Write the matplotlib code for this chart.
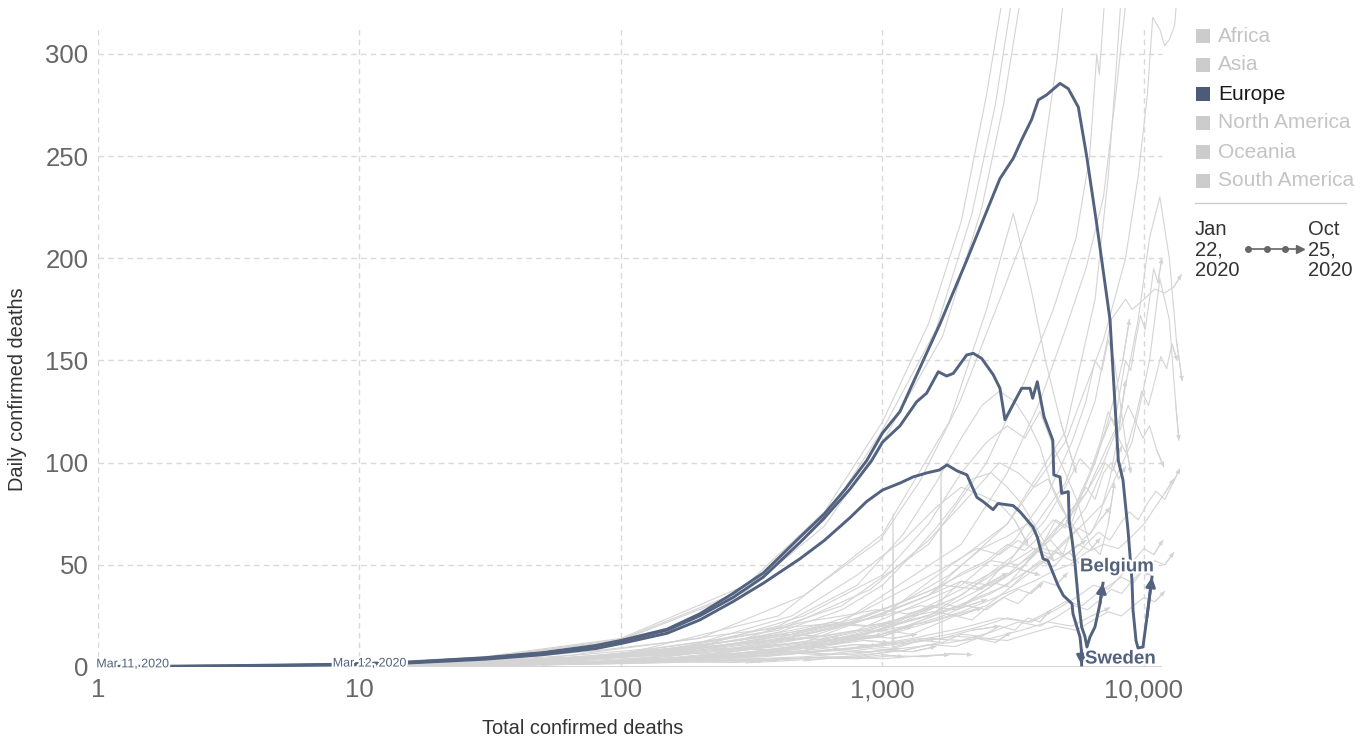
import matplotlib.pyplot as plt
import matplotlib.patheffects as pe
from matplotlib.patches import Rectangle
from matplotlib.lines import Line2D

plt.rcParams['font.family'] = ['Liberation Sans', 'DejaVu Sans']

W, H = 1369, 738
HL = '#52627f'      # highlighted (Europe) lines
GREY = '#d4d4d4'
TICK = '#666666'

# ---------- highlighted countries ----------
BEL_X = [1, 2, 4, 8, 15, 30, 50, 80, 100, 150, 200, 268, 350, 484, 600, 720, 870, 1000, 1166,
         1660, 2099, 2813, 3165, 3406, 3720, 3944, 4244, 4773, 5135, 5609, 6037, 6592, 7413,
         7977, 8312, 8687, 8995, 9078, 9321, 9485, 9909, 10268, 10730]
BEL_Y = [0.3, 0.4, 0.8, 1.3, 2.3, 4.5, 7, 10.5, 13, 18.5, 26, 36, 46, 63.6, 75, 87, 101, 114.5, 125,
         168, 199, 239, 249, 258, 268, 277.5, 280, 285.6, 283, 274, 250, 217, 170,
         101, 91.5, 67, 42.6, 28, 13, 9.3, 9.8, 24.5, 44]

NLD_X = [8, 15, 30, 50, 80, 100, 150, 200, 268, 350, 484, 600, 750, 909, 1000, 1166, 1351, 1475,
         1635, 1759, 1866, 2099, 2225, 2395, 2653, 2813, 2940, 3405, 3665, 3752, 3908, 4146,
         4480, 4520, 4773, 4844, 5135, 5180, 5288, 5446, 5609, 5775, 5948, 6050, 6217, 6495,
         6786, 6970]
NLD_Y = [1.2, 2.2, 4.3, 6.8, 10.2, 12.6, 18, 25, 34, 44, 61, 73, 87, 101, 110, 118, 129.8, 134,
         144.5, 142.4, 143.7, 152.7, 153.5, 151, 143, 136.4, 121, 136.4, 136.4, 131.5, 139.6, 122.5,
         111, 94, 93, 85, 85.8, 71, 63.8, 50.7, 32.8, 19.7, 14.8, 9.8, 14.7, 19.6,
         31, 41]

SWE_X = [1, 2, 4, 8, 15, 30, 50, 80, 100, 150, 200, 268, 350, 484, 600, 750, 870, 1000, 1166,
         1308, 1479, 1650, 1765, 1928, 2104, 2297, 2423, 2647, 2766, 3158, 3356, 3763, 3908,
         4111, 4295, 4690, 4916, 5305, 5352, 5500, 5692, 5760, 5775]
SWE_Y = [0.2, 0.3, 0.6, 1.0, 1.9, 3.8, 6, 9, 11.5, 16.5, 23, 32, 41, 53, 62, 73, 81, 86.6, 90,
         93, 95, 96.4, 98.9, 96, 94, 83, 81, 77, 80, 79, 76, 68.5, 63.6,
         53, 52, 40, 35, 31, 26, 21, 14.7, 8.3, 1]

# ---------- other countries (grey) ----------
grey_steep = [
    ([1, 3, 10, 30, 100, 300, 600, 1000, 1500, 2000, 2500, 2900],
     [0, 0.5, 1.8, 5, 14, 40, 76, 120, 168, 218, 280, 330]),
    ([1, 3, 10, 30, 100, 300, 600, 1000, 1600, 2200, 2700, 3150],
     [0, 0.4, 1.6, 4.6, 13.5, 38, 72, 116, 165, 222, 275, 330]),
    ([2, 5, 10, 30, 100, 300, 600, 1000, 1700, 2400, 2900, 3400],
     [0, 0.8, 1.5, 4.4, 13, 37, 69, 110, 162, 225, 275, 330]),
    ([10, 50, 200, 500, 978, 1391, 1979, 2813, 3899, 4647, 4950],
     [1, 4, 14, 35, 62, 91, 130, 180, 228, 297, 330]),
    ([30, 100, 300, 700, 1500, 2500, 3500, 4500, 5500, 6200, 6600, 6750, 7100],
     [2, 5, 14, 30, 60, 100, 140, 175, 210, 250, 300, 290, 330]),
    ([50, 200, 700, 2000, 3000, 4000, 5000, 6000, 7000, 7800, 8600],
     [2, 8, 22, 60, 95, 130, 165, 195, 230, 280, 330]),
    ([100, 500, 1500, 3000, 5000, 7000, 8500, 9500, 10300, 10800, 11500, 12000, 12500, 13100, 13400],
     [3, 12, 35, 70, 110, 160, 200, 240, 280, 318, 312, 304, 307, 314, 330]),
    ([200, 1000, 3000, 5000, 6500, 7300, 7800, 8200],
     [5, 25, 70, 115, 180, 240, 290, 330]),
]

grey_mid = [
    ([20, 100, 400, 1000, 1800, 2500, 2900, 3165, 3400, 3700, 4200, 4800, 5500],
     [1, 6, 25, 65, 120, 175, 205, 222, 205, 185, 150, 120, 95]),
    ([10, 60, 200, 500, 1000, 1500, 2000, 2500, 3000, 3500, 4000, 4500, 5000, 5600, 6200, 6800, 7300, 7700],
     [0.5, 3, 10, 25, 45, 70, 95, 110, 118, 112, 125, 108, 95, 80, 60, 55, 70, 90]),
    ([20, 100, 400, 900, 1500, 2200, 2800, 3300, 3800, 4300, 4800, 5300, 5800, 6300, 6800, 7400, 8000, 8500],
     [1, 5, 18, 38, 62, 85, 100, 95, 88, 92, 78, 70, 62, 66, 75, 92, 115, 140]),
    ([10, 80, 300, 700, 1200, 1800, 2400, 3000, 3600, 4100, 4600, 5200, 5800, 6500, 7200, 7800, 8300, 8800],
     [0.3, 2.5, 9, 20, 32, 45, 58, 64, 70, 60, 72, 68, 85, 100, 118, 135, 150, 170]),
    ([50, 200, 600, 1100, 1600, 2000, 2400, 2900, 3400, 3900, 4400, 4900, 5400, 6000, 6600, 7100, 7600, 8200],
     [1, 5, 14, 22, 30, 42, 38, 50, 48, 58, 62, 55, 70, 78, 90, 100, 96, 108]),
    ([5, 40, 150, 400, 800, 1200, 1600, 2000, 2400, 2800, 3200, 3600, 4000, 4400, 4800, 5200],
     [0.3, 2, 8, 20, 40, 65, 90, 112, 128, 135, 130, 120, 108, 90, 80, 70]),
    ([5, 40, 150, 400, 700, 1000, 1300, 1600, 1900, 2200, 2600, 3000, 3400, 3800, 4200, 4500],
     [0.3, 2, 7, 17, 28, 40, 55, 68, 80, 92, 95, 88, 80, 70, 60, 52]),
    ([30, 150, 500, 1000, 1500, 2000, 2500, 3000, 3500, 4000, 4500, 5000, 5500, 6000, 6500, 7000, 7500, 8000, 8500],
     [1, 5, 14, 26, 35, 46, 52, 60, 57, 64, 72, 68, 80, 88, 82, 95, 100, 92, 98]),
    ([300, 1500, 3000, 4500, 5500, 6200, 6800, 7300, 7700, 8100, 8500, 8900, 9300, 9700, 10100, 10500, 10900, 11300, 11700],
     [5, 25, 45, 65, 80, 95, 110, 125, 118, 135, 150, 145, 160, 172, 165, 180, 195, 188, 200]),
    ([500, 2000, 3500, 5000, 6000, 7000, 7800, 8500, 9200, 9800, 10400, 11000, 11600, 12200, 12800, 13400],
     [8, 30, 50, 70, 85, 100, 115, 105, 120, 135, 128, 140, 152, 146, 158, 150]),
    ([100, 800, 2000, 3200, 4200, 5000, 5700, 6300, 6900, 7500, 8100, 8700, 9300, 9900, 10500, 11200, 11900],
     [2, 14, 35, 55, 72, 88, 102, 96, 110, 122, 116, 128, 120, 112, 118, 106, 98]),
    ([150, 800, 2000, 3200, 4300, 5300, 6000, 6500, 6900, 7300, 7700, 8100, 8500, 8900],
     [3, 18, 40, 62, 85, 110, 130, 150, 145, 160, 150, 130, 110, 95]),
    ([100, 500, 1500, 3000, 5000, 6500, 7500, 8500, 9000, 10000, 11000, 12000, 13000, 13900],
     [2, 8, 25, 50, 90, 130, 170, 180, 175, 180, 185, 183, 186, 192]),
    ([200, 1000, 3000, 6000, 8000, 9500, 10500, 11500, 12500, 13300, 14000],
     [3, 15, 40, 85, 120, 170, 210, 230, 200, 160, 140]),
    ([50, 300, 1000, 2500, 4500, 7000, 9000, 10500, 11500, 12500, 13200, 13600],
     [1, 6, 15, 30, 55, 80, 110, 150, 190, 170, 130, 111]),
    ([300, 800, 1000, 1090, 1097, 1105, 1300, 1600],
     [2, 5, 7, 8, 75, 10, 12, 14]),
    ([500, 1200, 1650, 1675, 1690, 2200, 2800],
     [3, 8, 12, 96, 14, 18, 20]),
    ([20, 80, 200, 450, 800, 1200, 1600, 2000, 2400, 2800, 3200, 3600],
     [1, 5, 12, 25, 45, 62, 78, 88, 84, 80, 72, 60]),
    ([40, 150, 400, 800, 1300, 1800, 2300, 2800, 3300, 3900, 4500, 5200, 5900],
     [2, 6, 14, 26, 40, 50, 58, 55, 62, 57, 52, 56, 48]),
]

grey_low = [
    ([1, 5, 20, 60, 150, 300, 600, 1000, 1500, 2000, 2600, 3200, 3800, 4500, 5200, 6000, 7000, 8000, 9000, 10000, 11000, 12000, 13000],
     [0, 0.5, 1.5, 3, 6, 9, 13, 18, 22, 27, 33, 38, 42, 47, 50, 56, 60, 58, 64, 70, 78, 85, 92]),
    ([1, 10, 50, 150, 300, 500, 800, 1100, 1400, 1700, 2000, 2400, 2800, 3200, 3600, 4000, 4400],
     [0, 0.5, 2, 4, 6, 8, 11, 9, 13, 12, 16, 15, 20, 18, 24, 22, 28]),
    ([2, 20, 80, 200, 400, 600, 900, 1200, 1500, 1900, 2300, 2700, 3100],
     [0, 0.8, 2.5, 4, 7, 6, 9, 8, 11, 10, 14, 12, 17]),
    ([1, 10, 40, 120, 250, 400, 600, 800, 1000, 1200],
     [0, 0.3, 1.2, 2.5, 4, 3.5, 5, 4.5, 6, 5]),
    ([5, 30, 100, 250, 450, 700, 1000, 1300, 1600, 1900, 2200, 2500, 2900, 3300, 3700, 4100, 4600, 5100],
     [0, 1, 3, 6, 10, 14, 18, 16, 21, 25, 23, 29, 34, 31, 37, 42, 40, 46]),
    ([1, 8, 30, 90, 200, 350, 550, 800, 1100, 1400, 1700, 2000, 2300, 2700, 3100, 3500, 4000, 4500, 5000, 5600, 6200, 6800],
     [0, 0.5, 1.2, 2.8, 5, 8, 11, 15, 20, 26, 31, 29, 35, 41, 39, 46, 52, 49, 55, 60, 57, 63]),
    ([3, 15, 60, 150, 300, 500, 750, 1000, 1300, 1600],
     [0, 0.6, 2, 3.5, 5, 7, 6, 8, 7.5, 10]),
    ([1, 4, 15, 50, 120, 200, 300, 400],
     [0, 0.2, 0.8, 1.6, 2.5, 3.2, 2.8, 3.5]),
    ([10, 50, 200, 500, 900, 1400, 2000, 2600, 3300, 4000, 4700, 5400, 6100, 6800, 7500, 8200, 9000, 9800, 10600],
     [0.2, 1.5, 4, 7, 10, 14, 13, 17, 22, 20, 25, 30, 28, 33, 38, 36, 42, 47, 45]),
    ([20, 100, 300, 700, 1200, 1800, 2400, 3000, 3600, 4300, 5000, 5800, 6600, 7400, 8200, 9100, 10000, 11000, 12000, 13000],
     [0.5, 2, 5, 9, 12, 16, 20, 24, 22, 27, 32, 30, 36, 40, 44, 41, 48, 52, 50, 56]),
    ([5, 25, 80, 200, 400, 700, 1000, 1400, 1800],
     [0.2, 0.8, 2, 3, 4, 5, 4, 5.5, 6]),
    ([50, 200, 500, 1000, 1600, 2300, 3000, 3800, 4600, 5500, 6400, 7300, 8200, 9100, 10000, 11000, 12000],
     [1, 3, 5, 8, 11, 14, 13, 17, 20, 18, 23, 27, 25, 30, 34, 32, 37]),
    ([1, 6, 25, 70, 150, 280, 450, 650, 900, 1150],
     [0, 0.4, 1, 2, 3.5, 5, 6.5, 8, 7.5, 9]),
    ([100, 300, 600, 1000, 1500, 2000, 2600, 3200, 3900, 4600, 5300, 6000, 6700, 7400, 8100, 8800, 9500, 10300, 11100, 12000, 12900, 13700],
     [2, 6, 10, 16, 24, 30, 36, 43, 50, 56, 52, 60, 66, 62, 70, 76, 72, 80, 86, 82, 90, 97]),
    ([30, 120, 350, 750, 1300, 2000, 2800, 3700, 4600, 5500, 6400, 7300, 8200, 9100, 10000, 10900, 11800],
     [0.5, 2, 5, 9, 14, 19, 24, 22, 28, 34, 40, 38, 45, 52, 58, 55, 62]),
    ([2, 12, 40, 100, 180, 260, 350],
     [0, 0.4, 1, 1.8, 2.5, 2.2, 3]),
    ([10, 40, 120, 250, 450, 700, 1000, 1350, 1700, 2100, 2500, 2900, 3300, 3700, 4100],
     [0.3, 1.2, 3, 5.5, 8.5, 12, 16, 21, 25, 30, 28, 34, 38, 36, 41]),
    ([200, 500, 900, 1400, 2000, 2600, 3200, 3800, 4400, 5000, 5600, 6200, 6800, 7400],
     [4, 10, 18, 28, 38, 46, 52, 58, 55, 62, 68, 65, 72, 78]),
    ([40, 150, 400, 800, 1300, 1900, 2600, 3400, 4300, 5300, 6300, 7400],
     [1, 3, 6, 9, 12, 15, 14, 18, 22, 20, 25, 29]),
    ([8, 30, 90, 200, 350, 550, 800, 1100, 1450, 1800, 2200],
     [0.2, 0.7, 1.5, 2.5, 3.5, 4.5, 4, 5.5, 5, 6.5, 6]),
    ([1, 5, 15, 40, 80, 150, 250, 400, 600, 850, 1100],
     [0, 0.6, 2, 4.5, 8, 12, 16, 19, 21, 20, 22]),
    ([3, 10, 30, 70, 130, 220, 350, 500, 700, 950, 1250, 1600],
     [0, 1, 3, 6, 9, 13, 17, 22, 25, 28, 26, 30]),
    ([2, 8, 25, 60, 120, 200, 320, 480, 650, 850, 1050],
     [0, 0.7, 2, 4, 6, 8, 10, 12, 11, 13, 12]),
    ([1, 4, 12, 35, 80, 160, 280, 450, 700, 1000, 1400, 1900, 2500],
     [0, 0.4, 1.2, 3, 5.5, 9, 13, 17, 21, 25, 30, 28, 33]),
    ([5, 20, 50, 110, 200, 330, 500, 700, 900, 1100, 1350],
     [0, 1.2, 3, 6, 9, 12, 14, 13, 15, 14, 16]),
    ([1, 3, 10, 30, 60, 110, 180, 280, 420, 600, 800, 1050, 1300],
     [0, 0.3, 1, 2.5, 4.5, 7, 10, 13, 16, 15, 18, 17, 20]),
    ([10, 40, 100, 200, 350, 550, 800, 1100, 1500, 2000, 2600, 3300, 4000],
     [0.5, 2, 5, 8, 12, 17, 22, 28, 35, 42, 40, 48, 45]),
    ([20, 60, 150, 300, 500, 800, 1200, 1700, 2300, 3000],
     [1, 3, 7, 12, 17, 24, 32, 40, 38, 46]),
    ([2, 6, 20, 50, 100, 170, 260, 380, 520, 680],
     [0, 0.5, 1.5, 3, 5, 7, 6.5, 8, 7, 9]),
    ([1, 3, 8, 20, 45, 90, 160, 250, 360, 480, 620, 780, 950],
     [0, 0.3, 0.8, 2, 3.5, 5.5, 7.5, 9, 8.5, 10, 9.5, 11, 10.5]),
    ([15, 50, 120, 250, 450, 750, 1100, 1500, 2000, 2600, 3300, 4100, 5000, 6000],
     [1, 3, 6, 11, 16, 22, 30, 37, 45, 52, 50, 58, 55, 62]),
    ([5, 25, 70, 150, 280, 450, 650, 900, 1200, 1550, 1950, 2400],
     [0.3, 2, 5, 9, 13, 18, 22, 20, 24, 27, 25, 29]),
    ([3, 12, 35, 80, 150, 250, 380, 550, 750, 1000],
     [0.2, 1, 2.5, 5, 8, 11, 13, 15, 14, 16]),
]

X_TICKS = [1, 10, 100, 1000, 10000]
X_LABELS = ['1', '10', '100', '1,000', '10,000']
Y_TICKS = [0, 50, 100, 150, 200, 250, 300]

CONTINENTS = ['Africa', 'Asia', 'Europe', 'North America', 'Oceania', 'South America']
ACTIVE = 'Europe'


def fx(px):
    return px / W


def fy(py):
    return 1 - py / H


# ---------- figure ----------
fig = plt.figure(figsize=(W / 100, H / 100), dpi=100)
ax = fig.add_axes([fx(98), 1 - 667 / H, 1087 / W, 659 / H])
ax.set_xscale('log')
ax.set_xlim(1, 14350)
ax.set_ylim(0, 322.5)
for s in ax.spines.values():
    s.set_visible(False)

# grid
ax.hlines(Y_TICKS[1:], 1, 11720, colors='#d9d9d9', linestyles=(0, (4, 3)), lw=1, zorder=0)
ax.vlines(X_TICKS, 0, 314, colors='#d9d9d9', linestyles=(0, (4, 3)), lw=1, zorder=0)
ax.hlines(0, 1, 11720, colors='#cccccc', lw=1.2, zorder=0)

ax.set_xticks(X_TICKS)
ax.set_xticklabels(X_LABELS)
ax.set_yticks(Y_TICKS)
ax.minorticks_off()
ax.tick_params(axis='both', length=0, colors=TICK, labelsize=18.5)
ax.tick_params(axis='y', pad=7)
ax.tick_params(axis='x', pad=8)

for xs, ys in grey_low + grey_mid + grey_steep:
    ax.plot(xs, ys, color=GREY, lw=0.8, zorder=1)
    if ys[-1] < 320:
        ax.annotate('', xy=(xs[-1], ys[-1]), xytext=(xs[-2], ys[-2]),
                    arrowprops=dict(arrowstyle='-|>', color=GREY, lw=0.8, mutation_scale=6,
                                    shrinkA=0, shrinkB=0), zorder=1)

halo = [pe.withStroke(linewidth=3, foreground='white')]
for xs, ys in [(SWE_X, SWE_Y), (NLD_X, NLD_Y), (BEL_X, BEL_Y)]:
    ax.plot(xs, ys, color=HL, lw=2.1, zorder=3, solid_joinstyle='round')
    ax.annotate('', xy=(xs[-1], ys[-1]), xytext=(xs[-2], ys[-2]),
                arrowprops=dict(arrowstyle='-|>', color=HL, lw=2, mutation_scale=14,
                                shrinkA=0, shrinkB=0), zorder=4)

# start date labels
ax.text(0.985, 1.3, 'Mar 11, 2020', fontsize=9, color=HL, va='center', ha='left',
        path_effects=halo, zorder=5)
ax.text(7.9, 1.7, 'Mar 12, 2020', fontsize=9, color=HL, va='center', ha='left',
        path_effects=halo, zorder=5)

# country labels
ax.text(5690, 49, 'Belgium', fontsize=13.5, fontweight='bold', color=HL, va='center',
        ha='left', path_effects=halo, zorder=5)
ax.text(5945, 3.9, 'Sweden', fontsize=13.5, fontweight='bold', color=HL, va='center',
        ha='left', path_effects=halo, zorder=5)

# axis titles
fig.text(fx(18), fy(389), 'Daily confirmed deaths', rotation=90, fontsize=14.4,
         color='#333333', ha='center', va='center')
fig.text(fx(583), fy(728), 'Total confirmed deaths', fontsize=14.4, color='#333333',
         ha='center', va='center')

# legend
for i, name in enumerate(CONTINENTS):
    yc = 36 + 29 * i
    on = name == ACTIVE
    fig.add_artist(Rectangle((fx(1196), fy(yc + 7)), 14 / W, 14 / H, transform=fig.transFigure,
                             facecolor='#4c5b7a' if on else '#cccccc', edgecolor='none'))
    fig.text(fx(1218), fy(yc), name, fontsize=15, color='#1a1a1a' if on else '#c4c4c4',
             va='center', ha='left')
fig.add_artist(Line2D([fx(1195), fx(1346)], [fy(203), fy(203)], transform=fig.transFigure,
                      color='#cccccc', lw=1))

# time range
fig.text(fx(1195), fy(250), 'Jan\n22,\n2020', fontsize=14.5, color='#333333', va='center',
         ha='left', linespacing=1.1)
fig.text(fx(1308), fy(250), 'Oct\n25,\n2020', fontsize=14.5, color='#333333', va='center',
         ha='left', linespacing=1.1)
fig.add_artist(Line2D([fx(1248), fx(1298)], [fy(249), fy(249)], transform=fig.transFigure,
                      color='#666666', lw=1.2))
fig.add_artist(Line2D([fx(1248), fx(1267), fx(1285)], [fy(249)] * 3, transform=fig.transFigure,
                      color='#666666', lw=0, marker='o', markersize=4))
fig.add_artist(Line2D([fx(1300)], [fy(249)], transform=fig.transFigure,
                      color='#666666', lw=0, marker='>', markersize=6))

fig.savefig('out.png', dpi=100)
